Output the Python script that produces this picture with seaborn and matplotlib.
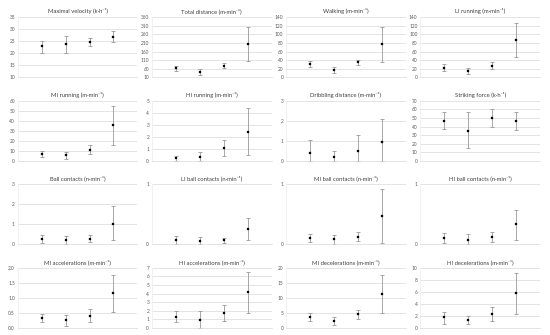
import numpy as np
import pandas as pd
import matplotlib
matplotlib.use("Agg")
import matplotlib.pyplot as plt
import seaborn as sns

# Panel titles
titles = [
    "Maximal velocity (k·h⁻¹)", "Total distance (m·min⁻¹)", "Walking (m·min⁻¹)", "LI running (m·min⁻¹)",
    "MI running (m·min⁻¹)", "HI running (m·min⁻¹)", "Dribbling distance (m·min⁻¹)", "Striking force (k·h⁻¹)",
    "Ball contacts (n·min⁻¹)", "LI ball contacts (n·min⁻¹)", "MI ball contacts (n·min⁻¹)", "HI ball contacts (n·min⁻¹)",
    "MI accelerations (m·min⁻¹)", "HI accelerations (m·min⁻¹)", "MI decelerations (m·min⁻¹)", "HI decelerations (m·min⁻¹)",
]

groups = [0, 1, 2, 3]

# mean values per panel (4 groups each)
means = [
    [23.0, 23.7, 24.7, 27.0],
    [62, 40, 76, 205],
    [30, 17.4, 34.8, 77.5],
    [22, 14.2, 27, 87.8],
    [6.3, 5.3, 11, 35.3],
    [0.2, 0.31, 1.05, 2.43],
    [0.39, 0.17, 0.49, 0.92],
    [47, 35.2, 50.2, 46.2],
    [0.25, 0.2, 0.28, 1.03],
    [0.07, 0.045, 0.07, 0.245],
    [0.106, 0.08, 0.12, 0.47],
    [0.1, 0.07, 0.12, 0.335],
    [0.31, 0.24, 0.4, 1.17],
    [1.3, 0.94, 1.73, 4.13],
    [3.6, 2.36, 4.6, 11.2],
    [1.7, 1.35, 2.3, 5.73],
]

# error bar ends
upper = [
    [25.3, 27.3, 26.4, 29.3],
    [76, 56, 92, 305],
    [37, 24.5, 41, 117.8],
    [30, 20.6, 34.8, 127],
    [9.3, 9.0, 15.3, 55.3],
    [0.42, 0.68, 1.7, 4.4],
    [1.02, 0.46, 1.29, 2.07],
    [56.6, 56.7, 61, 57],
    [0.45, 0.4, 0.48, 1.9],
    [0.14, 0.12, 0.1, 0.43],
    [0.17, 0.145, 0.2, 0.92],
    [0.18, 0.17, 0.21, 0.58],
    [0.45, 0.42, 0.62, 1.78],
    [1.93, 1.93, 2.64, 6.5],
    [5.06, 3.6, 6.07, 17.6],
    [2.7, 1.97, 3.43, 9.1],
]
lower = [
    [20.1, 20.1, 22.9, 24.6],
    [46, 22, 62, 106],
    [24, 10.3, 27.7, 36.4],
    [14, 7.9, 19, 48],
    [3.3, 1.7, 6.7, 15.3],
    [0.0, 0.0, 0.4, 0.45],
    [0.0, 0.0, 0.0, 0.0],
    [37.6, 14.6, 39.6, 36],
    [0.07, 0.03, 0.1, 0.2],
    [0.0, 0.0, 0.02, 0.07],
    [0.03, 0.01, 0.045, 0.02],
    [0.02, 0.01, 0.03, 0.07],
    [0.18, 0.07, 0.2, 0.54],
    [0.67, 0.0, 0.79, 1.7],
    [2.13, 1.0, 2.9, 4.8],
    [0.67, 0.62, 1.07, 2.36],
]

# y tick sets per panel
yticks = [
    [10, 15, 20, 25, 30, 35],
    [10, 60, 110, 160, 210, 260, 310, 360],
    [0, 20, 40, 60, 80, 100, 120, 140],
    [0, 20, 40, 60, 80, 100, 120, 140],
    [0, 10, 20, 30, 40, 50, 60],
    [0, 1, 2, 3, 4, 5],
    [0, 1, 2, 3],
    [0, 10, 20, 30, 40, 50, 60, 70],
    [0, 1, 2, 3],
    [0, 1],
    [0, 1],
    [0, 1],
    [0.0, 0.5, 1.0, 1.5, 2.0],
    [0, 1, 2, 3, 4, 5, 6, 7],
    [0, 5, 10, 15, 20],
    [0, 2, 4, 6, 8, 10],
]

sns.set_style("white")
plt.rcParams['font.family'] = ['Lato', 'DejaVu Sans']

fig, axes = plt.subplots(4, 4, figsize=(5.5, 3.35), dpi=100)
fig.subplots_adjust(left=0.032, right=0.982, top=0.948, bottom=0.022, wspace=0.12, hspace=0.40)

grid_c = "#d9d9d9"
for i, ax in enumerate(axes.flat):
    df = pd.DataFrame({"group": groups, "mean": means[i], "lo": lower[i], "hi": upper[i]})
    m = df["mean"].to_numpy()
    yerr = np.vstack([m - df["lo"].to_numpy(), df["hi"].to_numpy() - m])
    ax.errorbar(df["group"], m, yerr=yerr, fmt="none", ecolor="#999999",
                elinewidth=0.6, capsize=1.3, capthick=0.6, zorder=2)
    sns.scatterplot(data=df, x="group", y="mean", ax=ax, color="black", marker="s",
                    s=4.2, edgecolor="black", linewidth=0.2, zorder=3, legend=False)
    ax.set_xlim(-1, 4)
    ax.set_ylim(yticks[i][0], yticks[i][-1])
    ax.set_yticks(yticks[i])
    if i == 12:
        ax.set_yticklabels([f"{t:.1f}" for t in yticks[i]])
    ax.set_xticks([])
    ax.set_xlabel("")
    ax.set_ylabel("")
    ax.yaxis.grid(True, color=grid_c, linewidth=0.5)
    ax.set_axisbelow(True)
    for s in ["top", "right"]:
        ax.spines[s].set_visible(False)
    ax.spines["left"].set_color("#ececec")
    ax.spines["left"].set_linewidth(0.5)
    ax.spines["bottom"].set_color(grid_c)
    ax.spines["bottom"].set_linewidth(0.5)
    ax.tick_params(axis="y", labelsize=3.4, length=0, pad=2, colors="#595959")
    ax.set_title(titles[i], fontsize=4.2, color="#404040", pad=3)

fig.savefig("out.png", dpi=100)
